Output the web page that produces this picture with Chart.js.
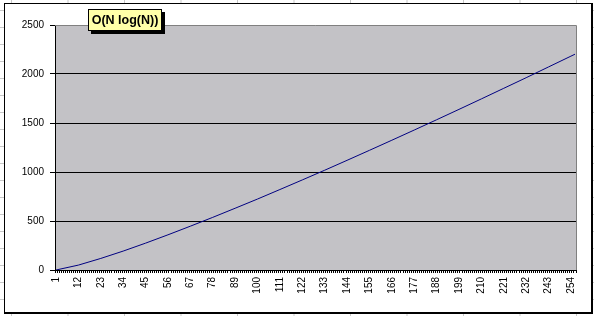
<!DOCTYPE html>
<html>
<head>
<meta charset="utf-8">
<script src="https://cdn.jsdelivr.net/npm/chart.js@4/dist/chart.umd.min.js"></script>
<style>
  body {
    margin: 0;
    width: 594px;
    height: 316px;
    overflow: hidden;
    position: relative;
    background-color: #fff;
    background-image:
      linear-gradient(to right, #c8c8c8 1px, transparent 1px),
      linear-gradient(to bottom, #c8c8c8 1px, transparent 1px);
    background-size: 56.5px 17px;
    background-position: 11px 10px;
  }
  #box {
    position: absolute;
    left: 4px;
    top: 3px;
    width: 586px;
    height: 308px;
    border: 1px solid #000;
    border-right-width: 2px;
    border-bottom-width: 2px;
    background: #fff;
  }
  #chartWrap {
    position: absolute;
    left: 0;
    top: 0;
    width: 594px;
    height: 316px;
  }
  #title {
    position: absolute;
    left: 88px;
    top: 9px;
    width: 72px;
    height: 20px;
    border: 1px solid #000;
    background: #ffffa8;
    box-shadow: 3px 3px 0 #000;
    font: bold 12.5px "Liberation Sans", Arial, sans-serif;
    line-height: 20px;
    text-align: center;
    color: #000;
    white-space: nowrap;
  }
</style>
</head>
<body>
<div id="box"></div>
<div id="chartWrap"><canvas id="nlogChart" width="594" height="316"></canvas></div>
<div id="title">O(N log(N))</div>
<script>
// O(N log(N)) growth, N = 1..256

const nCount = 256;
const tickLabels = [1, 12, 23, 34, 45, 56, 67, 78, 89, 100, 111, 122, 133, 144, 155, 166, 177, 188, 199, 210, 221, 232, 243, 254];

// values at every 11th N (plus the last one)
const sampleN = [1, 12, 23, 34, 45, 56, 67, 78, 89, 100, 111, 122, 133, 144, 155, 166, 177, 188, 199, 210, 221, 232, 243, 254, 256];
const sampleCost = [0, 50, 118, 193, 274, 359, 447, 537, 630, 724, 821, 919, 1018, 1119, 1221, 1324, 1428, 1533, 1639, 1746, 1854, 1962, 2072, 2182, 2202];

const yTicks = [0, 500, 1000, 1500, 2000, 2500];

const categories = [];
for (let i = 1; i <= nCount; i++) categories.push(i);

const points = sampleN.map((n, i) => ({ x: n, y: sampleCost[i] }));

const plotArea = {
    id: 'plotArea',
    beforeDraw(chart) {
        const { ctx, chartArea: a } = chart;
        ctx.save();
        ctx.fillStyle = '#c3c2c6';
        ctx.fillRect(a.left, a.top, a.right - a.left, a.bottom - a.top);
        ctx.restore();
    },
    afterDraw(chart) {
        const { ctx, chartArea: a } = chart;
        ctx.save();
        ctx.strokeStyle = '#808080';
        ctx.lineWidth = 1;
        ctx.beginPath();
        ctx.moveTo(a.left, a.top + 0.5);
        ctx.lineTo(a.right + 0.5, a.top + 0.5);
        ctx.lineTo(a.right + 0.5, a.bottom);
        ctx.stroke();
        ctx.restore();
    }
};

const font = { family: '"Liberation Sans", Arial, sans-serif', size: 10 };

new Chart(document.getElementById('nlogChart'), {
    type: 'line',
    data: {
        labels: categories,
        datasets: [{
            label: 'O(N log(N))',
            data: points,
            borderColor: '#000080',
            borderWidth: 1,
            pointRadius: 0,
            tension: 0,
            fill: false
        }]
    },
    options: {
        responsive: false,
        animation: false,
        layout: { padding: { left: 0, right: 18, top: 25, bottom: 0 } },
        scales: {
            x: {
                type: 'category',
                offset: true,
                afterFit(scale) { scale.height = 46; },
                border: { display: true, color: '#000', width: 1 },
                grid: {
                    offset: true,
                    drawOnChartArea: false,
                    drawTicks: true,
                    tickLength: 3,
                    color: '#000'
                },
                ticks: {
                    autoSkip: false,
                    minRotation: 90,
                    maxRotation: 90,
                    padding: 4,
                    color: '#000',
                    font: font,
                    callback(val) {
                        const l = this.getLabelForValue(val);
                        return tickLabels.includes(l) ? String(l) : '';
                    }
                }
            },
            y: {
                min: 0,
                max: 2500,
                afterFit(scale) { scale.width = 55; },
                afterBuildTicks(scale) { scale.ticks = yTicks.map(v => ({ value: v })); },
                border: { display: true, color: '#000', width: 1 },
                grid: {
                    color: c => (c.tick && c.tick.value === 2500) ? 'rgba(0,0,0,0)' : '#000',
                    tickColor: '#000',
                    tickLength: 5,
                    lineWidth: 1
                },
                ticks: {
                    padding: 6,
                    color: '#000',
                    font: font,
                    callback: v => String(v)
                }
            }
        },
        plugins: {
            legend: { display: false },
            tooltip: { enabled: false },
            title: { display: false }
        }
    },
    plugins: [plotArea]
});
</script>
</body>
</html>
